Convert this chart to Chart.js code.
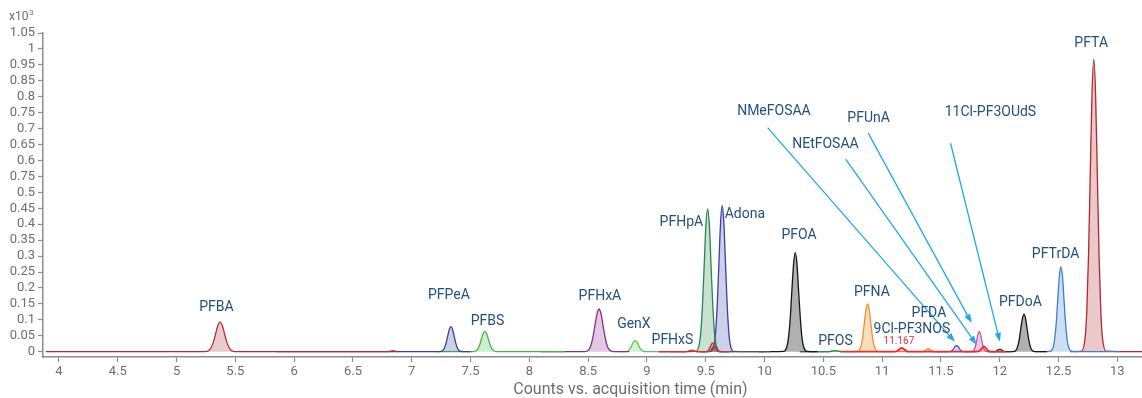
<!DOCTYPE html>
<html>
<head>
<meta charset="utf-8">
<title>PFAS chromatogram</title>
<script src="https://cdn.jsdelivr.net/npm/chart.js@4.4.0/dist/chart.umd.min.js"></script>
<style>
  html, body { margin: 0; padding: 0; background: #ffffff; }
  canvas { display: block; }
</style>
</head>
<body>
<canvas id="chroma" width="1142" height="398"></canvas>
<script>
// Axis tick labels, as printed on the instrument report
const yTickLabels = ['0', '0.05', '0.1', '0.15', '0.2', '0.25', '0.3', '0.35', '0.4', '0.45', '0.5',
                     '0.75', '0.6', '0.65', '0.7', '0.75', '0.8', '0.85', '0.95', '1', '1.05'];
const xTickLabels = ['4', '4.5', '5', '5.5', '6', '6.5', '7', '7.5', '8', '8.5', '9', '9.5',
                     '10', '10.5', '11', '11.5', '12', '12.5', '13'];
const xAxisTitle = 'Counts vs. acquisition time (min)';

// Extracted ion traces: retention time (min) and counts (x10^3)
const pfbaTime = [3.887, 5.237, 5.275, 5.294, 5.313, 5.332, 5.351, 5.37, 5.389, 5.408, 5.427, 5.446, 5.465, 5.503, 6.0, 6.8, 6.84, 6.88];
const pfbaCounts = [0, 0, 0.004, 0.013, 0.030, 0.056, 0.082, 0.093, 0.082, 0.056, 0.030, 0.013, 0.004, 0, 0, 0, 0.003, 0];

const pfpeaTime = [5.85, 7.235, 7.263, 7.277, 7.291, 7.305, 7.319, 7.333, 7.347, 7.361, 7.375, 7.389, 7.403, 7.431, 7.5];
const pfpeaCounts = [0, 0, 0.0035, 0.011, 0.026, 0.048, 0.070, 0.079, 0.070, 0.048, 0.026, 0.011, 0.0035, 0, 0];

const pfbsTime = [7.2, 7.517, 7.547, 7.562, 7.577, 7.592, 7.607, 7.622, 7.637, 7.652, 7.667, 7.682, 7.697, 7.727, 8.3];
const pfbsCounts = [0, 0, 0.003, 0.009, 0.021, 0.039, 0.056, 0.064, 0.056, 0.039, 0.021, 0.009, 0.003, 0, 0];

const pfhxaTime = [8.1, 8.47, 8.505, 8.522, 8.54, 8.557, 8.575, 8.592, 8.61, 8.627, 8.645, 8.662, 8.68, 8.715, 8.85];
const pfhxaCounts = [0, 0, 0.006, 0.018, 0.044, 0.081, 0.118, 0.134, 0.118, 0.081, 0.044, 0.018, 0.006, 0, 0];

const genxTime = [8.75, 8.805, 8.833, 8.846, 8.86, 8.873, 8.887, 8.9, 8.914, 8.927, 8.94, 8.954, 8.968, 8.995, 9.15];
const genxCounts = [0, 0, 0.0015, 0.005, 0.011, 0.021, 0.031, 0.035, 0.031, 0.021, 0.011, 0.005, 0.0015, 0, 0];

const pfhxsTime = [9.1, 9.33, 9.36, 9.38, 9.40, 9.43, 9.495, 9.513, 9.522, 9.531, 9.54, 9.549, 9.558, 9.567, 9.576, 9.585, 9.594, 9.603, 9.621, 9.7];
const pfhxsCounts = [0, 0, 0.003, 0.005, 0.003, 0, 0, 0.001, 0.004, 0.009, 0.016, 0.024, 0.027, 0.024, 0.016, 0.009, 0.004, 0.001, 0, 0];

const pfhpaTime = [9.2, 9.414, 9.443, 9.458, 9.472, 9.487, 9.501, 9.516, 9.531, 9.545, 9.56, 9.574, 9.589, 9.618, 9.75];
const pfhpaCounts = [0, 0.001, 0.020, 0.061, 0.145, 0.271, 0.395, 0.447, 0.395, 0.271, 0.145, 0.061, 0.020, 0.001, 0];

const adonaTime = [9.45, 9.542, 9.57, 9.584, 9.598, 9.612, 9.626, 9.64, 9.654, 9.668, 9.682, 9.696, 9.71, 9.738, 10.0];
const adonaCounts = [0, 0.001, 0.020, 0.062, 0.149, 0.278, 0.404, 0.458, 0.404, 0.278, 0.149, 0.062, 0.020, 0.001, 0];

const istdTime = [9.45, 9.53, 9.545, 9.56, 9.575, 9.59, 9.605, 9.62, 10.05];
const istdCounts = [0, 0, 0.005, 0.014, 0.018, 0.014, 0.005, 0, 0];

const pfoaTime = [9.95, 10.16, 10.189, 10.203, 10.218, 10.232, 10.247, 10.261, 10.276, 10.29, 10.305, 10.319, 10.334, 10.363, 10.45];
const pfoaCounts = [0, 0.001, 0.014, 0.042, 0.101, 0.189, 0.275, 0.311, 0.275, 0.189, 0.101, 0.042, 0.014, 0.001, 0];

const pfosTime = [10.3, 10.55, 10.58, 10.6, 10.62, 10.66];
const pfosCounts = [0, 0, 0.002, 0.003, 0.002, 0];

const pfnaTime = [10.7, 10.782, 10.809, 10.822, 10.836, 10.849, 10.863, 10.876, 10.89, 10.903, 10.917, 10.93, 10.944, 10.971, 11.33, 11.36, 11.376, 11.392, 11.408, 11.424, 11.45, 11.5];
const pfnaCounts = [0, 0, 0.007, 0.020, 0.049, 0.091, 0.132, 0.15, 0.132, 0.091, 0.049, 0.020, 0.007, 0, 0, 0.002, 0.007, 0.010, 0.007, 0.002, 0, 0];

const nosTime = [10.65, 11.1, 11.127, 11.147, 11.167, 11.187, 11.207, 11.235, 11.8, 11.83, 11.848, 11.866, 11.884, 11.902, 11.93, 12.05];
const nosCounts = [0, 0, 0.002, 0.008, 0.012, 0.008, 0.002, 0, 0, 0.003, 0.011, 0.017, 0.011, 0.003, 0, 0];

const pfdaTime = [11.45, 11.575, 11.6, 11.617, 11.633, 11.649, 11.666, 11.69, 11.8];
const pfdaCounts = [0, 0, 0.005, 0.015, 0.019, 0.015, 0.005, 0, 0];

const pfunaTime = [11.7, 11.771, 11.786, 11.796, 11.806, 11.816, 11.826, 11.836, 11.846, 11.856, 11.866, 11.881, 11.95];
const pfunaCounts = [0, 0.001, 0.009, 0.021, 0.039, 0.056, 0.064, 0.056, 0.039, 0.021, 0.009, 0.001, 0];

const udsTime = [11.9, 11.96, 11.98, 12.0, 12.02, 12.04, 12.1];
const udsCounts = [0, 0, 0.005, 0.008, 0.005, 0, 0];

const pfdoaTime = [11.95, 12.112, 12.139, 12.152, 12.166, 12.179, 12.193, 12.206, 12.22, 12.233, 12.247, 12.26, 12.274, 12.301, 12.4];
const pfdoaCounts = [0, 0, 0.005, 0.016, 0.038, 0.072, 0.104, 0.118, 0.104, 0.072, 0.038, 0.016, 0.005, 0, 0];

const pftrdaTime = [12.3, 12.426, 12.453, 12.466, 12.48, 12.493, 12.507, 12.52, 12.534, 12.547, 12.561, 12.574, 12.588, 12.615, 13.02];
const pftrdaCounts = [0, 0.001, 0.012, 0.036, 0.086, 0.161, 0.235, 0.266, 0.235, 0.161, 0.086, 0.036, 0.012, 0.001, 0];

const pftaTime = [12.6, 12.695, 12.725, 12.74, 12.755, 12.77, 12.785, 12.8, 12.815, 12.83, 12.845, 12.86, 12.875, 12.905, 13.21];
const pftaCounts = [0, 0.002, 0.040, 0.124, 0.298, 0.557, 0.810, 0.918, 0.810, 0.557, 0.298, 0.124, 0.040, 0.002, 0];

// one entry per trace: data arrays + colours
const traces = [
    { time: pfhxsTime,  counts: pfhxsCounts,  line: '#d3323c', fill: 'rgba(211,50,60,0.25)', width: 1.4 },
    { time: istdTime,   counts: istdCounts,   line: '#555555', fill: 'rgba(80,80,80,0.35)', width: 1.2 },
    { time: nosTime,    counts: nosCounts,    line: '#e2303a', fill: 'rgba(226,48,58,0.25)', width: 1.8 },
    { time: pfdaTime,   counts: pfdaCounts,   line: '#3d4ea8', fill: 'rgba(61,78,168,0.25)', width: 1.2 },
    { time: pfunaTime,  counts: pfunaCounts,  line: '#c04fa6', fill: 'rgba(192,79,166,0.3)', width: 1.2 },
    { time: udsTime,    counts: udsCounts,    line: '#333333', fill: 'rgba(50,50,50,0.35)', width: 1.2 },
    { time: pfbaTime,   counts: pfbaCounts,   line: '#b3303a', fill: 'rgba(179,48,58,0.25)', width: 1.3 },
    { time: pfpeaTime,  counts: pfpeaCounts,  line: '#3b3f9c', fill: 'rgba(59,63,156,0.25)', width: 1.3 },
    { time: pfbsTime,   counts: pfbsCounts,   line: '#45b548', fill: 'rgba(69,181,72,0.25)', width: 1.3 },
    { time: pfhxaTime,  counts: pfhxaCounts,  line: '#8a2d8c', fill: 'rgba(138,45,140,0.25)', width: 1.3 },
    { time: genxTime,   counts: genxCounts,   line: '#5bc65b', fill: 'rgba(91,198,91,0.25)', width: 1.3 },
    { time: pfhpaTime,  counts: pfhpaCounts,  line: '#28874a', fill: 'rgba(40,135,74,0.25)', width: 1.3 },
    { time: adonaTime,  counts: adonaCounts,  line: '#3a3fa6', fill: 'rgba(58,63,166,0.25)', width: 1.3 },
    { time: pfoaTime,   counts: pfoaCounts,   line: '#151515', fill: 'rgba(30,30,30,0.35)', width: 1.3 },
    { time: pfosTime,   counts: pfosCounts,   line: '#2a8a45', fill: 'rgba(42,138,69,0.25)', width: 1.5 },
    { time: pfnaTime,   counts: pfnaCounts,   line: '#f0902a', fill: 'rgba(240,144,42,0.3)', width: 1.3 },
    { time: pfdoaTime,  counts: pfdoaCounts,  line: '#151515', fill: 'rgba(30,30,30,0.35)', width: 1.3 },
    { time: pftrdaTime, counts: pftrdaCounts, line: '#3e7fd0', fill: 'rgba(62,127,208,0.25)', width: 1.3 },
    { time: pftaTime,   counts: pftaCounts,   line: '#b0282f', fill: 'rgba(176,40,47,0.25)', width: 1.3 }
];

// compound names and where they sit (time, counts)
const labelSpots = [
    { text: 'PFBA', t: 5.339, v: 0.138 },
    { text: 'PFPeA', t: 7.316, v: 0.176 },
    { text: 'PFBS', t: 7.644, v: 0.095 },
    { text: 'PFHxA', t: 8.600, v: 0.173 },
    { text: 'GenX', t: 8.889, v: 0.085 },
    { text: 'PFHxS', t: 9.217, v: 0.035 },
    { text: 'PFHpA', t: 9.293, v: 0.405 },
    { text: 'Adona', t: 9.833, v: 0.432 },
    { text: 'PFOA', t: 10.293, v: 0.364 },
    { text: 'PFOS', t: 10.603, v: 0.032 },
    { text: 'PFNA', t: 10.913, v: 0.187 },
    { text: 'PFDA', t: 11.398, v: 0.121 },
    { text: '9Cl-PF3NOS', t: 11.253, v: 0.071 },
    { text: 'PFDoA', t: 12.176, v: 0.155 },
    { text: 'PFTrDA', t: 12.475, v: 0.306 },
    { text: 'PFTA', t: 12.778, v: 0.966 },
    { text: 'NMeFOSAA', t: 10.08, v: 0.755 },
    { text: 'NEtFOSAA', t: 10.518, v: 0.651 },
    { text: 'PFUnA', t: 10.885, v: 0.733 },
    { text: '11Cl-PF3OUdS', t: 11.921, v: 0.751 }
];
const rtSpot = { text: '11.167', t: 11.143, v: 0.032 };

// call-out arrows for the crowded late-eluting compounds
const arrowSpots = [
    { from: [10.026, 0.703], to: [11.619, 0.031] },
    { from: [10.690, 0.604], to: [11.804, 0.022] },
    { from: [10.882, 0.686], to: [11.761, 0.090] },
    { from: [11.582, 0.654], to: [12.002, 0.031] }
];

const axisGray = '#8c8c8c';
const tickGray = '#6e6e6e';
const labelBlue = '#24507a';
const arrowBlue = '#23a9e1';

const annotationPlugin = {
    id: 'peakAnnotations',
    afterDatasetsDraw(chart) {
        const ctx = chart.ctx;
        const x = chart.scales.x;
        const y = chart.scales.y;
        ctx.save();

        // arrows
        ctx.strokeStyle = arrowBlue;
        ctx.fillStyle = arrowBlue;
        ctx.lineWidth = 1.3;
        arrowSpots.forEach(a => {
            const x1 = x.getPixelForValue(a.from[0]);
            const y1 = y.getPixelForValue(a.from[1]);
            const x2 = x.getPixelForValue(a.to[0]);
            const y2 = y.getPixelForValue(a.to[1]);
            const ang = Math.atan2(y2 - y1, x2 - x1);
            const len = 9, half = 3.2;
            const bx = x2 - len * Math.cos(ang);
            const by = y2 - len * Math.sin(ang);
            ctx.beginPath();
            ctx.moveTo(x1, y1);
            ctx.lineTo(bx, by);
            ctx.stroke();
            ctx.beginPath();
            ctx.moveTo(x2, y2);
            ctx.lineTo(bx + half * Math.sin(ang), by - half * Math.cos(ang));
            ctx.lineTo(bx - half * Math.sin(ang), by + half * Math.cos(ang));
            ctx.closePath();
            ctx.fill();
        });

        // compound labels
        ctx.textAlign = 'center';
        ctx.textBaseline = 'middle';
        ctx.font = '14px Roboto';
        ctx.fillStyle = labelBlue;
        labelSpots.forEach(l => {
            ctx.fillText(l.text, x.getPixelForValue(l.t), y.getPixelForValue(l.v));
        });
        ctx.font = '10px Roboto';
        ctx.fillStyle = '#e2303a';
        ctx.fillText(rtSpot.text, x.getPixelForValue(rtSpot.t), y.getPixelForValue(rtSpot.v));

        // x-axis title, centred a little right of the plot middle like the report
        ctx.fillStyle = tickGray;
        ctx.font = '16px Roboto';
        ctx.fillText(xAxisTitle, x.getPixelForValue(8.86), 390);

        // y-axis multiplier
        ctx.textAlign = 'left';
        ctx.font = '12px Roboto';
        ctx.fillText('x10', 9, 17);
        ctx.font = '8px Roboto';
        ctx.fillText('3', 29, 13);
        ctx.restore();
    }
};

function buildChart() {
    const ctx = document.getElementById('chroma').getContext('2d');
    new Chart(ctx, {
        type: 'line',
        data: {
            datasets: traces.map(tr => ({
                data: tr.time.map((t, i) => ({ x: t, y: tr.counts[i] })),
                borderColor: tr.line,
                backgroundColor: tr.fill,
                borderWidth: tr.width,
                fill: 'origin',
                pointRadius: 0,
                cubicInterpolationMode: 'monotone'
            }))
        },
        options: {
            responsive: false,
            animation: false,
            devicePixelRatio: 1,
            layout: { padding: { top: 33, left: 0, right: 0, bottom: 0 } },
            plugins: { legend: { display: false }, tooltip: { enabled: false } },
            scales: {
                x: {
                    type: 'linear',
                    min: 3.864,
                    max: 13.21,
                    border: { color: axisGray, width: 1.5 },
                    grid: { drawOnChartArea: false, tickLength: 5, color: axisGray, tickWidth: 1.2 },
                    afterBuildTicks: scale => {
                        scale.ticks = xTickLabels.map(s => ({ value: parseFloat(s) }));
                    },
                    ticks: {
                        color: tickGray,
                        font: { family: 'Roboto', size: 13 },
                        padding: 2,
                        maxRotation: 0,
                        autoSkip: false,
                        callback: (value, index) => xTickLabels[index]
                    },
                    afterFit: scale => { scale.height = 41; }
                },
                y: {
                    type: 'linear',
                    min: -0.0166,
                    max: 1.0,
                    border: { color: axisGray, width: 1.5 },
                    grid: { drawOnChartArea: false, tickLength: 5, color: axisGray, tickWidth: 1.2 },
                    afterBuildTicks: scale => {
                        scale.ticks = yTickLabels.map((s, i) => ({ value: i * 0.05 }));
                    },
                    ticks: {
                        color: tickGray,
                        font: { family: 'Roboto', size: 13 },
                        padding: 3,
                        autoSkip: false,
                        callback: (value, index) => yTickLabels[index]
                    },
                    afterFit: scale => { scale.width = 43; }
                }
            }
        },
        plugins: [annotationPlugin]
    });
}

window.onload = buildChart;
</script>
</body>
</html>
